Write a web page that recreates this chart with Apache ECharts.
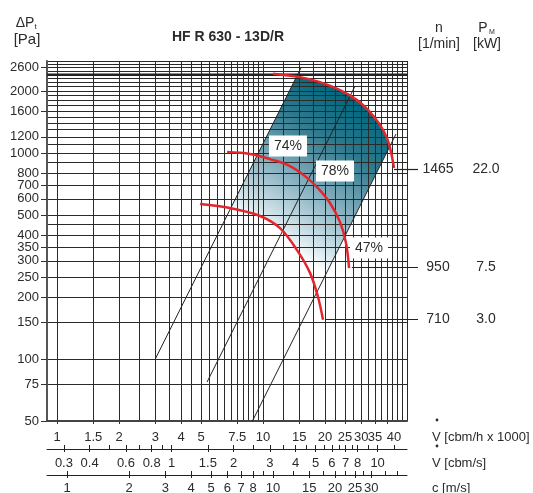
<!DOCTYPE html>
<html><head><meta charset="utf-8">
<script src="https://cdn.jsdelivr.net/npm/echarts@6/dist/echarts.min.js"></script>
<style>html,body{margin:0;padding:0;background:#fff}#c{width:533px;height:493px}</style>
</head><body><div id="c"></div>
<script>
// ---- axis ranges / ticks ----
const xMin = 0.894, xMax = 50;
const yMin = 50, yMax = 2800;
const cbmsMin = 0.2483, cbmsMax = 13.89;   // V [cbm/s]
const velMin = 0.7996, velMax = 44.72;     // c [m/s]

const xLabelValues = [1, 1.5, 2, 3, 4, 5, 7.5, 10, 15, 20, 25, 30, 35, 40];
const xGridValues = [1, 1.5, 2, 2.5, 3, 3.5, 4, 4.5, 5, 5.5, 6, 6.5, 7, 7.5, 8, 8.5, 9, 9.5, 10,
  12.5, 15, 17.5, 20, 22.5, 25, 27.5, 30, 32.5, 35, 37.5, 40, 42.5, 45, 47.5, 50];
const yLabelValues = [50, 75, 100, 150, 200, 250, 300, 350, 400, 500, 600, 700, 800, 1000, 1200, 1600, 2000, 2600];
const yGridValues = [50, 75, 100, 150, 200, 250, 300, 350, 400, 450, 500, 600, 700, 800, 900,
  1000, 1100, 1200, 1300, 1400, 1500, 1600, 1700, 1800, 1900, 2000, 2100, 2200, 2300, 2400,
  2500, 2600, 2700, 2800];
const cbmsLabelValues = [0.3, 0.4, 0.6, 0.8, 1, 1.5, 2, 3, 4, 5, 6, 7, 8, 10];
const cbmsTickValues = [0.3, 0.4, 0.5, 0.6, 0.7, 0.8, 0.9, 1, 1.5, 2, 2.5, 3, 3.5, 4, 4.5, 5, 5.5, 6, 6.5, 7, 7.5, 8, 9, 10, 12];
const velLabelValues = [1, 2, 3, 4, 5, 6, 7, 8, 10, 15, 20, 25, 30];
const velTickValues = [1, 2, 3, 4, 5, 6, 7, 8, 9, 10, 12.5, 15, 17.5, 20, 22.5, 25, 27.5, 30, 35, 40];

// ---- fan curves (V in 1000 cbm/h, dP in Pa) ----
const curve1465V = [11.18, 15.12, 18.91, 23.65, 28.59, 33.06, 36.98, 39.99, 41.82, 43.25];
const curve1465P = [2430, 2338, 2211, 2022, 1808, 1581, 1368, 1182, 1011, 846];
const curve950V = [6.69, 8.65, 10.81, 13.52, 15.99, 18.49, 21.14, 23.65, 25.29, 26.16];
const curve950P = [1011, 989, 935, 865, 773, 676, 572, 462, 366, 276];
const curve710V = [4.95, 6.92, 9.67, 12.09, 14.62, 16.91, 18.49, 19.56];
const curve710P = [566, 541, 495, 432, 338, 262, 200, 155];

// ---- system (efficiency) lines ----
const sysLine1V = [3, 15.3], sysLine1P = [100, 2600];
const sysLine2V = [5.35, 27.97], sysLine2P = [77.3, 2115];
const sysLine3V = [8.84, 44.2], sysLine3P = [49.5, 1237];
const refLineP = 2400;

// ---- shaded working area boundary ----
const fillV = [6.95, 14.6, 15.12, 18.91, 23.65, 28.59, 33.06, 36.98, 39.99, 41.2, 18.2, 16.91, 14.62, 12.09, 9.67, 6.95];
const fillP = [541, 2370, 2338, 2211, 2022, 1808, 1581, 1368, 1182, 1075, 210, 262, 338, 432, 495, 541];

// ---- efficiency labels ----
const effLabels = ['74%', '78%', '47%'];
const effV = [13.22, 22.36, 32.7];
const effP = [1081, 818, 346];

// ---- speed / power rows ----
const speeds = ['1465', '950', '710'];
const powers = ['22.0', '7.5', '3.0'];
const leaderStartV = [43.25, 27.0, 20.0];
const leaderP = [840, 280, 156];

const FONT = '"Liberation Sans", Arial, Helvetica, sans-serif';
const TXT = '#2b2b2b';
const zip = (a, b) => a.map((v, i) => [v, b[i]]);
const fmt = v => String(+(+v).toPrecision(6));
const fmtMain = v => { const s = fmt(v); return s === '40' ? '{r|' + s + '}' : s; };

const chart = echarts.init(document.getElementById('c'), null, {renderer: 'canvas'});

function secAxis(min, max, offset, tickVals, labelVals, inside, showLabel, showLine, margin) {
  return {
    type: 'log', gridIndex: 0, position: 'bottom', min, max, offset,
    axisLine: {show: showLine, onZero: false, lineStyle: {color: '#222', width: 1}},
    axisTick: {show: true, inside, length: inside ? 4 : 3, customValues: tickVals, lineStyle: {color: '#222', width: 1}},
    axisLabel: {show: showLabel, customValues: labelVals, formatter: fmt, margin, hideOverlap: false,
      showMinLabel: true, showMaxLabel: true, fontSize: 13, color: TXT, fontFamily: FONT},
    splitLine: {show: false}
  };
}

const effData = effLabels.map((t, i) => ({value: [effV[i], effP[i]], name: t}));

const redStyle = {color: '#e3262d', width: 2.5};
const blackStyle = {color: '#222', width: 1};

const series = [
  {
    type: 'custom', z: 0, silent: true, xAxisIndex: 0, yAxisIndex: 0,
    data: [[fillV[0], fillP[0]]],
    renderItem: (params, api) => {
      const pts = fillV.map((v, i) => api.coord([v, fillP[i]]));
      return {
        type: 'polygon', shape: {points: pts},
        style: {fill: new echarts.graphic.LinearGradient(0.1, 1, 0.9, 0.1, [
          {offset: 0, color: '#ffffff'}, {offset: 0.25, color: '#ffffff'},
          {offset: 0.33, color: '#d6e6ec'}, {offset: 0.52, color: '#86b0bf'},
          {offset: 0.75, color: '#2f788c'}, {offset: 0.92, color: '#046a80'},
          {offset: 1, color: '#006479'}])}
      };
    }
  },
  {type: 'line', z: 2, data: [[xMin, refLineP], [xMax, refLineP]], symbol: 'none', lineStyle: {color: '#222', width: 2.5}, silent: true},
  {type: 'line', z: 3, data: zip(sysLine1V, sysLine1P), symbol: 'none', lineStyle: blackStyle, silent: true},
  {type: 'line', z: 3, data: zip(sysLine2V, sysLine2P), symbol: 'none', lineStyle: blackStyle, silent: true},
  {type: 'line', z: 3, data: zip(sysLine3V, sysLine3P), symbol: 'none', lineStyle: blackStyle, silent: true},
  {type: 'line', z: 4, data: zip(curve1465V, curve1465P), symbol: 'none', smooth: 0.35, lineStyle: redStyle, silent: true},
  {type: 'line', z: 4, data: zip(curve950V, curve950P), symbol: 'none', smooth: 0.35, lineStyle: redStyle, silent: true},
  {type: 'line', z: 4, data: zip(curve710V, curve710P), symbol: 'none', smooth: 0.35, lineStyle: redStyle, silent: true},
  {
    type: 'scatter', z: 6, symbolSize: 1, itemStyle: {color: '#ffffff', opacity: 1}, data: effData, silent: true,
    label: {show: true, opacity: 1, position: 'inside', formatter: p => p.name, fontSize: 14, color: TXT, fontFamily: FONT,
      backgroundColor: '#ffffff', padding: [4, 5, 3, 5]}
  }
];

function txt(x, y, text, size, opts) {
  opts = opts || {};
  return {type: 'text', x, y, silent: true, z: 10, style: {
    text, fill: TXT, font: (opts.bold ? 'bold ' : '') + size + 'px ' + FONT,
    align: opts.align || 'center', textAlign: opts.align || 'center',
    verticalAlign: 'middle', textVerticalAlign: 'middle'}};
}

const option = {
  backgroundColor: '#fff',
  animation: false,
  grid: {left: 47, right: 126, top: 61, bottom: 72, containLabel: false, outerBoundsMode: 'none'},
  xAxis: [
    {
      type: 'log', position: 'bottom', min: xMin, max: xMax, z: 1,
      axisLine: {onZero: false, lineStyle: {color: '#444', width: 2}},
      axisTick: {customValues: xLabelValues, length: 3, lineStyle: {color: '#333'}},
      axisLabel: {customValues: xLabelValues, formatter: fmtMain, margin: 10, hideOverlap: false,
        showMinLabel: true, showMaxLabel: true, fontSize: 13, color: TXT, fontFamily: FONT,
        rich: {r: {fontSize: 13, color: TXT, fontFamily: FONT, padding: [0, 0, 0, 14]}}},
      splitLine: {show: false}
    },
    {
      type: 'log', position: 'bottom', min: xMin, max: xMax, z: 1,
      axisLine: {show: false}, axisLabel: {show: false},
      axisTick: {show: false, customValues: xGridValues},
      splitLine: {show: true, lineStyle: {color: '#2a2a2a', width: 1}}
    },
    secAxis(cbmsMin, cbmsMax, 28, cbmsTickValues, cbmsLabelValues, true, true, true, 8),
    secAxis(cbmsMin, cbmsMax, 28, cbmsLabelValues, cbmsLabelValues, false, false, false, 8),
    secAxis(velMin, velMax, 54, velTickValues, velLabelValues, true, true, true, 7),
    secAxis(velMin, velMax, 54, velLabelValues, velLabelValues, false, false, false, 7)
  ],
  yAxis: [
    {
      type: 'log', position: 'left', min: yMin, max: yMax, z: 1,
      axisLine: {onZero: false, lineStyle: {color: '#555', width: 2}},
      axisTick: {customValues: yLabelValues, length: 6, lineStyle: {color: '#333'}},
      axisLabel: {customValues: yLabelValues, formatter: fmt, margin: 8, hideOverlap: false,
        showMinLabel: true, showMaxLabel: true, fontSize: 13, color: TXT, fontFamily: FONT},
      splitLine: {show: false}
    },
    {
      type: 'log', position: 'left', min: yMin, max: yMax, z: 1,
      axisLine: {show: false}, axisLabel: {show: false},
      axisTick: {show: false, customValues: yGridValues},
      splitLine: {show: true, lineStyle: {color: '#2a2a2a', width: 1}}
    }
  ],
  series
};
chart.setOption(option);

// header texts + speed/power rows (rows positioned through the y axis scale)
const graphics = [
  txt(25, 23, 'ΔP', 14),
  txt(35.5, 27, 't', 8),
  txt(27, 40, '[Pa]', 15),
  txt(228, 37, 'HF R 630 - 13D/R', 14, {bold: true}),
  txt(439, 28, 'n', 14),
  txt(439, 44, '[1/min]', 14),
  txt(483, 28, 'P', 14),
  txt(492, 32, 'M', 7),
  txt(487, 44, '[kW]', 14),
  txt(432, 437, 'V [cbm/h x 1000]', 13, {align: 'left'}),
  txt(432, 463, 'V [cbm/s]', 13, {align: 'left'}),
  txt(432, 488, 'c [m/s]', 13, {align: 'left'}),
  {type: 'circle', silent: true, shape: {cx: 437, cy: 420, r: 1.4}, style: {fill: TXT}},
  {type: 'circle', silent: true, shape: {cx: 437, cy: 446, r: 1.4}, style: {fill: TXT}}
];
leaderP.forEach((p, i) => {
  const y = Math.round(chart.convertToPixel({yAxisIndex: 0}, p)) + 0.5;
  const x0 = chart.convertToPixel({xAxisIndex: 0}, leaderStartV[i]);
  graphics.push({type: 'line', silent: true, z: 5, shape: {x1: x0, y1: y, x2: 418, y2: y},
    style: {stroke: '#222', lineWidth: 1.2}});
  graphics.push(txt(438, y, speeds[i], 14));
  graphics.push(txt(486, y, powers[i], 14));
});
chart.setOption({graphic: graphics});
</script>
</body></html>
